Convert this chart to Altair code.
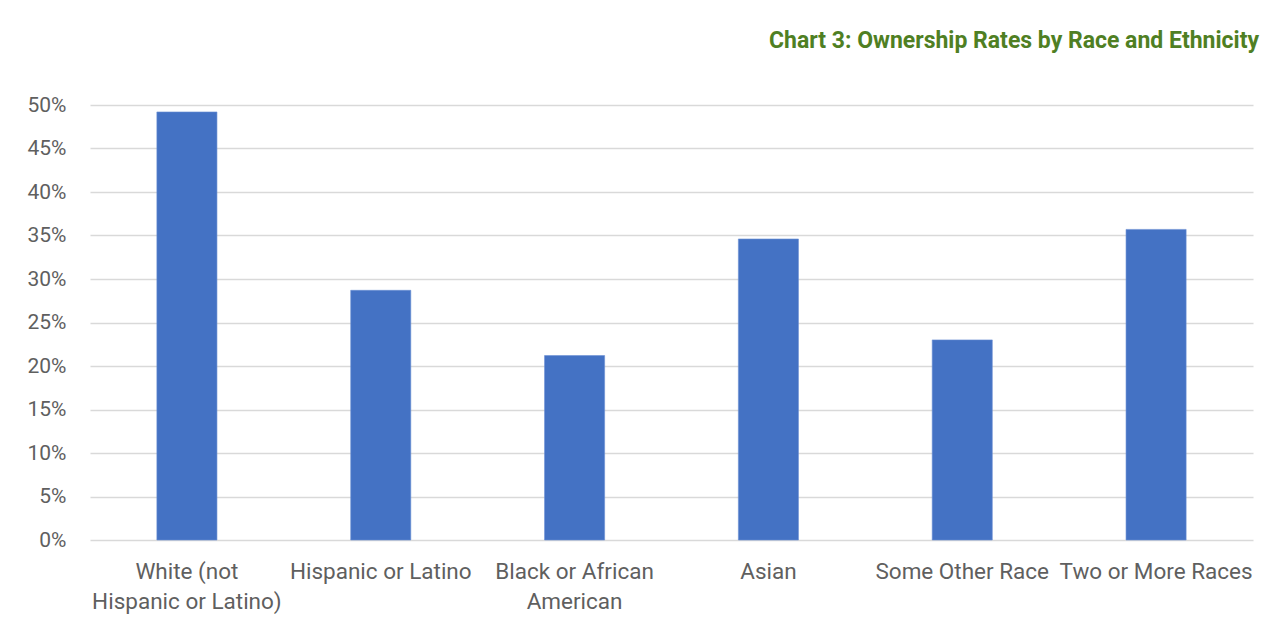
import altair as alt
import pandas as pd

categories = [
    "White (not Hispanic or Latino)",
    "Hispanic or Latino",
    "Black or African American",
    "Asian",
    "Some Other Race",
    "Two or More Races",
]
rates = [0.492, 0.287, 0.212, 0.346, 0.230, 0.357]

df = pd.DataFrame({"group": categories, "rate": rates})

label_expr = (
    "datum.label == 'White (not Hispanic or Latino)' ? ['White (not', 'Hispanic or Latino)'] : "
    "datum.label == 'Black or African American' ? ['Black or African', 'American'] : datum.label"
)

chart = (
    alt.Chart(df)
    .mark_bar(color="#4472C4", stroke="#6a8fd4", strokeWidth=0.6)
    .encode(
        x=alt.X(
            "group:N",
            sort=categories,
            title=None,
            scale=alt.Scale(paddingInner=0.69, paddingOuter=0.345),
            axis=alt.Axis(
                labelAngle=0,
                labelExpr=label_expr,
                labelFont="Roboto",
                labelFontSize=22.5,
                labelColor="#5f5f5f",
                labelLineHeight=30,
                labelPadding=20,
                labelBaseline="top",
                domain=False,
                ticks=False,
                grid=False,
                labelLimit=300,
            ),
        ),
        y=alt.Y(
            "rate:Q",
            title=None,
            scale=alt.Scale(domain=[0, 0.5], nice=False),
            axis=alt.Axis(
                values=[i * 0.05 for i in range(11)],
                format=".0%",
                labelFont="Roboto",
                labelFontSize=21,
                labelColor="#5f5f5f",
                labelPadding=24,
                domain=False,
                ticks=False,
                gridColor="#d9d9d9",
                gridWidth=1.5,
            ),
        ),
    )
    .properties(
        width=1163,
        height=435,
        autosize=alt.AutoSizeParams(type="none"),
        padding={"left": 82, "top": 97, "right": 7, "bottom": 74},
        title=alt.TitleParams(
            "Chart 3: Ownership Rates by Race and Ethnicity",
            anchor="end",
            font="Roboto",
            fontSize=23,
            fontWeight="bold",
            color="#4f7f23",
            offset=41,
            dx=6,
        ),
    )
    .configure(background="white")
    .configure_view(stroke="transparent", strokeWidth=0)
)

chart.save("out.html", embed_options={"renderer": "svg", "actions": False})
